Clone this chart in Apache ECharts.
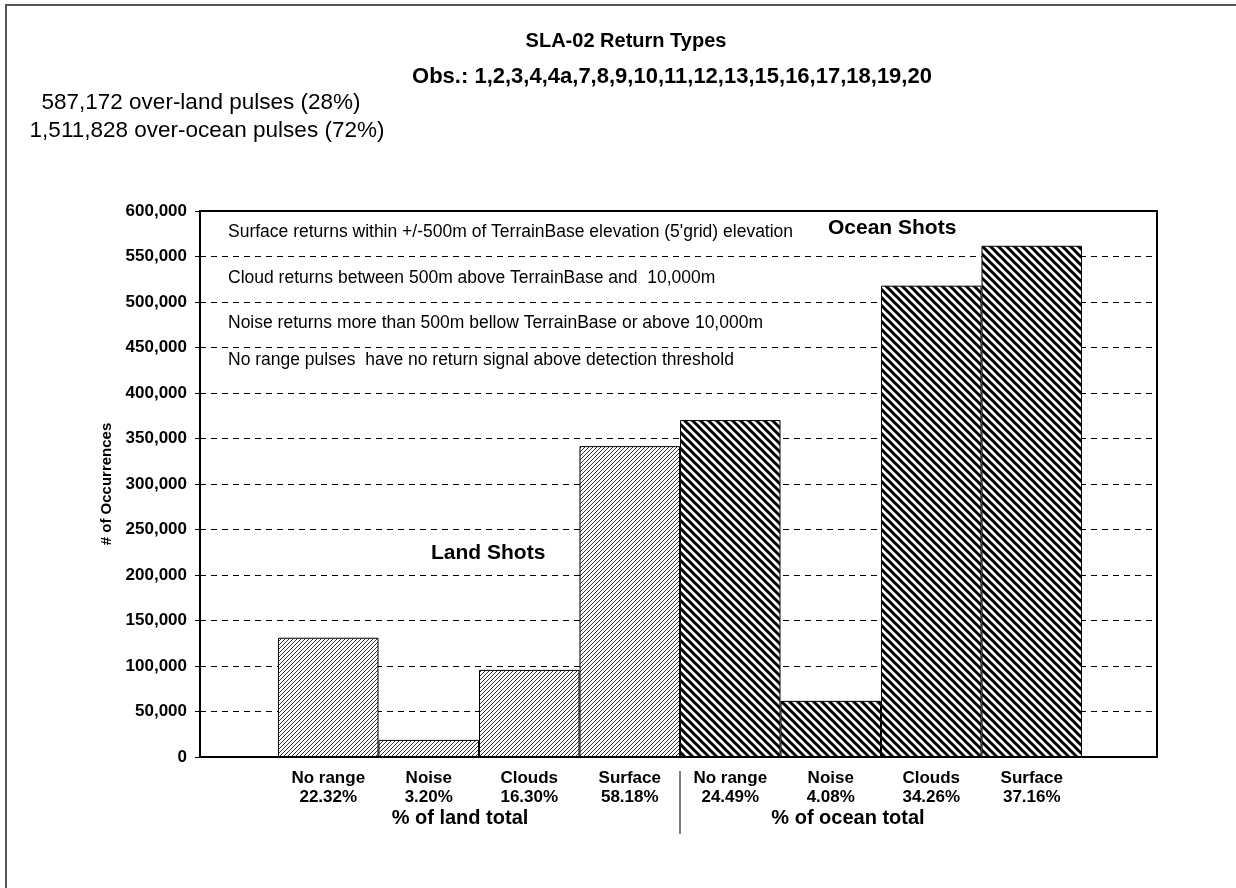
<!DOCTYPE html>
<html>
<head>
<meta charset="utf-8">
<title>SLA-02 Return Types</title>
<script src="https://cdn.jsdelivr.net/npm/echarts@6/dist/echarts.min.js"></script>
<style>
  html, body { margin: 0; padding: 0; background: #fff; }
  #chart { width: 1236px; height: 888px; }
</style>
</head>
<body>
<div id="chart"></div>
<script>
// Return-type counts for land and ocean shots
const returnTypes = ['No range', 'Noise', 'Clouds', 'Surface'];
const landCounts = [131057, 18790, 95709, 341617];
const oceanCounts = [370247, 61683, 517952, 561795];
const landPct = ['22.32%', '3.20%', '16.30%', '58.18%'];
const oceanPct = ['24.49%', '4.08%', '34.26%', '37.16%'];
const yTicks = { min: 0, max: 600000, interval: 50000 };

const titleLines = ['SLA-02 Return Types', 'Obs.: 1,2,3,4,4a,7,8,9,10,11,12,13,15,16,17,18,19,20'];
const pulseNotes = ['587,172 over-land pulses (28%)', '1,511,828 over-ocean pulses (72%)'];
const definitions = [
  "Surface returns within +/-500m of TerrainBase elevation (5'grid) elevation",
  'Cloud returns between 500m above TerrainBase and  10,000m',
  'Noise returns more than 500m bellow TerrainBase or above 10,000m',
  'No range pulses  have no return signal above detection threshold'
];

const FONT = '"Liberation Sans", Arial, sans-serif';

// Hatch fills: fine forward diagonals for land, heavy back diagonals for ocean
function hatch(size, lineWidth, color, forward) {
  const c = document.createElement('canvas');
  c.width = size; c.height = size;
  const g = c.getContext('2d');
  g.fillStyle = '#fff';
  g.fillRect(0, 0, size, size);
  g.strokeStyle = color;
  g.lineWidth = lineWidth;
  g.lineCap = 'square';
  g.beginPath();
  for (let k = -1; k <= 1; k++) {
    if (forward) {
      g.moveTo(k * size, size);
      g.lineTo(k * size + size, 0);
    } else {
      g.moveTo(k * size, 0);
      g.lineTo(k * size + size, size);
    }
  }
  g.stroke();
  return c;
}
const landFill = { image: hatch(4, 1, '#333', true), repeat: 'repeat' };
const oceanFill = { image: hatch(8, 3, '#000', false), repeat: 'repeat' };

const categories = returnTypes.map(t => 'land:' + t).concat(returnTypes.map(t => 'ocean:' + t));
const pctByCategory = landPct.concat(oceanPct);
const blanks = returnTypes.map(() => '-');

const chart = echarts.init(document.getElementById('chart'), null, { renderer: 'canvas' });

const plotTop = 211, plotBottom = 131;

function label(x, y, text, font, align) {
  return {
    type: 'text', x: x, y: y, silent: true,
    style: { text: text, font: font, fill: '#000', textAlign: align || 'left', textVerticalAlign: 'middle' }
  };
}

chart.setOption({
  backgroundColor: '#fff',
  animation: false,
  textStyle: { fontFamily: FONT },
  grid: [
    { left: 200, right: 79, top: plotTop, bottom: plotBottom, show: true, borderColor: '#000', borderWidth: 2, backgroundColor: 'transparent' },
    { left: 278, right: 154, top: plotTop, bottom: plotBottom }
  ],
  xAxis: [
    {
      gridIndex: 0, type: 'category', data: [''],
      axisLine: { show: true, lineStyle: { color: '#000', width: 2 } },
      axisTick: { show: false }, axisLabel: { show: false }, splitLine: { show: false }
    },
    {
      gridIndex: 1, type: 'category', data: categories, boundaryGap: true,
      axisLine: { show: false }, axisTick: { show: false }, splitLine: { show: false },
      axisLabel: {
        interval: 0, margin: 12,
        formatter: (v, i) => '{a|' + v.split(':')[1] + '}\n{a|' + pctByCategory[i] + '}',
        rich: {
          a: { fontFamily: FONT, fontSize: 17, fontWeight: 'bold', color: '#000', lineHeight: 19, align: 'center' }
        }
      }
    }
  ],
  yAxis: [
    {
      gridIndex: 0, type: 'value', min: yTicks.min, max: yTicks.max, interval: yTicks.interval,
      name: '# of Occurrences', nameLocation: 'middle', nameGap: 80, nameRotate: 90,
      nameTextStyle: { fontFamily: FONT, fontSize: 15, fontWeight: 'bold', color: '#000' },
      axisLine: { show: true, lineStyle: { color: '#000', width: 2 } },
      axisTick: { show: true, inside: false, length: 5, lineStyle: { color: '#000', width: 1 } },
      axisLabel: {
        margin: 13, fontFamily: FONT, fontSize: 17, fontWeight: 'bold', color: '#000',
        formatter: v => v.toLocaleString('en-US')
      },
      splitLine: { show: true, lineStyle: { color: '#000', width: 1, type: [6, 5] } }
    },
    {
      gridIndex: 1, type: 'value', min: yTicks.min, max: yTicks.max, interval: yTicks.interval,
      show: false, splitLine: { show: false }
    }
  ],
  series: [
    {
      name: 'Land Shots', type: 'bar', xAxisIndex: 1, yAxisIndex: 1, stack: 'shots',
      barCategoryGap: 0,
      data: landCounts.concat(blanks),
      itemStyle: { color: landFill, borderColor: '#000', borderWidth: 1 }
    },
    {
      name: 'Ocean Shots', type: 'bar', xAxisIndex: 1, yAxisIndex: 1, stack: 'shots',
      barCategoryGap: 0,
      data: blanks.concat(oceanCounts),
      itemStyle: { color: oceanFill, borderColor: '#000', borderWidth: 1 }
    }
  ],
  graphic: [
    // outer chart-area frame
    { type: 'polyline', shape: { points: [[6, 888], [6, 5], [1236, 5]] }, style: { stroke: '#555', lineWidth: 2, fill: null }, silent: true },
    label(626, 41, titleLines[0], 'bold 20px ' + FONT, 'center'),
    label(672, 77, titleLines[1], 'bold 22px ' + FONT, 'center'),
    label(201, 103, pulseNotes[0], '22.5px ' + FONT, 'center'),
    label(207, 131, pulseNotes[1], '22.5px ' + FONT, 'center'),
    label(228, 232, definitions[0], '17.5px ' + FONT),
    label(228, 278, definitions[1], '17.5px ' + FONT),
    label(228, 323, definitions[2], '17.5px ' + FONT),
    label(228, 360, definitions[3], '17.5px ' + FONT),
    label(828, 228, 'Ocean Shots', 'bold 21px ' + FONT),
    label(431, 553, 'Land Shots', 'bold 21px ' + FONT),
    label(460, 818, '% of land total', 'bold 20px ' + FONT, 'center'),
    label(848, 818, '% of ocean total', 'bold 20px ' + FONT, 'center'),
    { type: 'line', shape: { x1: 680, y1: 771, x2: 680, y2: 834 }, style: { stroke: '#000', lineWidth: 1 }, silent: true }
  ]
});
</script>
</body>
</html>
